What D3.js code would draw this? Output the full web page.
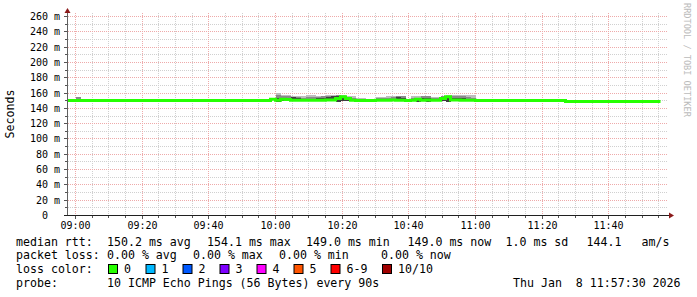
<!DOCTYPE html>
<html>
<head>
<meta charset="utf-8">
<script src="https://cdn.jsdelivr.net/npm/d3@7"></script>
<style>
body { margin: 0; background: #fff; }
svg { display: block; }
text { font-family: "DejaVu Sans Mono", monospace; fill: #000; white-space: pre; }
</style>
</head>
<body>
<div id="chart"></div>
<script>
// y axis ticks (ms)
var yTicks = [0, 20, 40, 60, 80, 100, 120, 140, 160, 180, 200, 220, 240, 260];
var xTickLabels = ["09:00", "09:20", "09:40", "10:00", "10:20", "10:40", "11:00", "11:20", "11:40"];

// 90 s steps that carry smoke (start time of each step), values in ms
var stepTime = ["08:58:30", "09:00:00",
  "09:58:30", "10:00:00", "10:01:30", "10:03:00", "10:04:30", "10:06:00", "10:07:30", "10:09:00",
  "10:10:30", "10:12:00", "10:13:30", "10:15:00", "10:16:30", "10:18:00", "10:19:30", "10:21:00",
  "10:22:30", "10:24:00", "10:25:30", "10:27:00", "10:28:30", "10:30:00", "10:31:30", "10:33:00",
  "10:34:30", "10:36:00", "10:37:30", "10:39:00", "10:40:30", "10:42:00", "10:43:30", "10:45:00",
  "10:46:30", "10:48:00", "10:49:30", "10:51:00", "10:52:30", "10:54:00", "10:55:30", "10:57:00",
  "10:58:30"];
var stepMed = [150.2, 150.2,
  151.8, 150.5, 152.0, 151.5, 150.5, 150.5, 150.5, 150.5,
  150.5, 150.5, 150.5, 151.0, 151.0, 153.0, 155.0, 153.0,
  150.5, 150.2, 150.2, 150.2, 150.2, 150.5, 150.5, 150.5,
  151.0, 150.5, 150.5, 150.2, 150.5, 152.0, 150.5, 151.0,
  150.5, 150.5, 153.0, 155.0, 151.0, 151.0, 150.5, 150.5,
  150.5];
var stepLo = [149.8, 149.8,
  149.5, 148.3, 149.3, 149.3, 149.3, 149.3, 149.3, 149.3,
  149.3, 149.3, 149.3, 149.3, 149.3, 148.3, 149.3, 149.3,
  149.3, 149.3, 149.3, 149.5, 149.5, 149.3, 149.3, 149.3,
  149.3, 149.3, 149.3, 149.5, 149.3, 148.3, 149.3, 148.3,
  149.3, 149.3, 149.3, 148.3, 149.3, 149.3, 149.3, 149.3,
  149.3];
var stepDark = [151.5, 152.5,
  150.0, 153.0, 154.0, 153.0, 155.0, 153.0, 152.5, 152.0,
  152.0, 153.0, 153.0, 155.0, 155.5, 156.0, 153.0, 152.0,
  151.0, 151.0, 150.5, 150.2, 150.2, 151.0, 151.0, 152.0,
  152.0, 155.0, 154.0, 150.5, 151.0, 152.0, 153.0, 154.0,
  152.0, 151.5, 155.0, 153.0, 154.0, 154.0, 153.0, 152.0,
  152.0];
var stepMid = [152.5, 154.3,
  150.0, 157.0, 156.0, 155.5, 155.0, 154.5, 154.0, 155.0,
  155.0, 155.0, 155.5, 156.5, 156.5, 157.0, 156.5, 155.0,
  154.0, 152.0, 151.5, 150.5, 150.5, 153.0, 153.0, 154.0,
  155.0, 156.0, 155.5, 151.0, 153.0, 154.0, 155.5, 155.5,
  153.5, 153.0, 155.5, 156.0, 156.0, 156.0, 156.0, 155.0,
  154.0];
var stepHi = [152.5, 154.6,
  150.0, 160.3, 157.5, 157.0, 155.5, 155.5, 155.5, 157.0,
  157.0, 156.0, 156.0, 157.0, 157.0, 157.5, 157.0, 156.5,
  156.0, 153.5, 153.0, 151.0, 151.0, 154.5, 154.5, 156.5,
  156.5, 156.5, 156.0, 152.0, 155.5, 155.5, 156.5, 156.5,
  154.5, 154.5, 156.5, 157.0, 157.0, 157.0, 157.5, 158.0,
  157.0];

// flat parts of the median line
var flatTime = ["08:57:36", "11:00:00", "11:27:00", "11:55:30"];
var flatMed = [150.2, 150.2, 149.0, 149.0];

var lossLabels = ["0", "1", "2", "3", "4", "5", "6-9", "10/10"];
var lossColors = ["#26ff00", "#00b8ff", "#0059ff", "#7e00ff", "#ff00ff", "#ff5500", "#ff0000", "#a00000"];

var parse = d3.timeParse("%Y-%m-%d %H:%M:%S");
function T(s) { return parse("2026-01-08 " + s); }

var W = 697, H = 297;
var svg = d3.select("#chart").append("svg").attr("width", W).attr("height", H);

var x = d3.scaleTime()
    .domain([T("08:57:36"), T("11:57:36")])
    .range([67.5, 667.5]);
var y = d3.scaleLinear()
    .domain([0, 260])
    .range([215.5, 16.5]);

function snap(v) { return Math.round(v - 0.5) + 0.5; }

// grid
var grid = svg.append("g");
var minorY = d3.range(10, 261, 20);
grid.selectAll(".hmin").data(minorY).enter().append("line")
    .attr("x1", 68).attr("x2", 668)
    .attr("y1", function(d) { return snap(y(d)); })
    .attr("y2", function(d) { return snap(y(d)); })
    .attr("stroke", "#d0d0d0").attr("stroke-dasharray", "1,1");
var minorX = x.ticks(d3.timeMinute.every(5)).filter(function(d) { return d.getMinutes() % 20 != 0; });
grid.selectAll(".vmin").data(minorX).enter().append("line")
    .attr("x1", function(d) { return snap(x(d)); })
    .attr("x2", function(d) { return snap(x(d)); })
    .attr("y1", 13).attr("y2", 215)
    .attr("stroke", "#d0d0d0").attr("stroke-dasharray", "1,1");
grid.selectAll(".hmaj").data(yTicks.slice(1)).enter().append("line")
    .attr("x1", 68).attr("x2", 668)
    .attr("y1", function(d) { return snap(y(d)); })
    .attr("y2", function(d) { return snap(y(d)); })
    .attr("stroke", "#eeaaaa").attr("stroke-dasharray", "1,1");
var majorX = x.ticks(d3.timeMinute.every(20));
grid.selectAll(".vmaj").data(majorX).enter().append("line")
    .attr("x1", function(d) { return snap(x(d)); })
    .attr("x2", function(d) { return snap(x(d)); })
    .attr("y1", 13).attr("y2", 215)
    .attr("stroke", "#eeaaaa").attr("stroke-dasharray", "1,1");

// smoke
var steps = stepTime.map(function(t, i) {
  return { t: T(t), lo: stepLo[i], dark: stepDark[i], mid: stepMid[i], hi: stepHi[i], med: stepMed[i] };
});
var smoke = svg.append("g");
function band(key, color) {
  smoke.selectAll(".b" + key).data(steps).enter().append("rect")
      .attr("x", function(d) { return Math.round(x(d.t)); })
      .attr("width", function(d) { return Math.round(x(new Date(+d.t + 90000))) - Math.round(x(d.t)); })
      .attr("y", function(d) { return Math.round(y(d[key])); })
      .attr("height", function(d) { return Math.max(0, Math.round(y(d.lo)) - Math.round(y(d[key]))); })
      .attr("fill", color);
}
band("hi", "#bdbdbd");
band("mid", "#8a8a8a");
band("dark", "#404040");

// median line
var med = steps.map(function(d) { return { t: d.t, v: d.med }; })
  .concat(flatTime.map(function(t, i) { return { t: T(t), v: flatMed[i] }; }))
  .sort(function(a, b) { return a.t - b.t; });
var line = d3.line()
    .x(function(d) { return x(d.t); })
    .y(function(d) { return y(d.v); })
    .curve(d3.curveStepAfter);
svg.append("path").datum(med)
    .attr("d", line)
    .attr("fill", "none")
    .attr("stroke", lossColors[0])
    .attr("stroke-width", 3);

// axes
var ax = svg.append("g");
ax.selectAll(".ytick").data(d3.range(0, 261, 10)).enter().append("line")
    .attr("x1", function(d) { return d % 20 == 0 ? 64 : 65; }).attr("x2", 67)
    .attr("y1", function(d) { return snap(y(d)); })
    .attr("y2", function(d) { return snap(y(d)); })
    .attr("stroke", "#555");
ax.selectAll(".xtick").data(x.ticks(d3.timeMinute.every(5))).enter().append("line")
    .attr("x1", function(d) { return snap(x(d)); })
    .attr("x2", function(d) { return snap(x(d)); })
    .attr("y1", 216).attr("y2", function(d) { return d.getMinutes() % 20 == 0 ? 219 : 218; })
    .attr("stroke", "#555");
ax.append("line").attr("x1", 67.5).attr("x2", 67.5).attr("y1", 12).attr("y2", 216)
    .attr("stroke", "#606060");
ax.append("line").attr("x1", 64).attr("x2", 670).attr("y1", 215.5).attr("y2", 215.5)
    .attr("stroke", "#202020");
ax.append("path").attr("d", "M64.5,13L70.5,13L67.5,8Z").attr("fill", "#8b1a1a");
ax.append("path").attr("d", "M669,212.5L669,218.5L674,215.5Z").attr("fill", "#8b1a1a");

// y labels
var yl = svg.append("g").style("font-size", "10px");
yl.selectAll(".yn").data(yTicks).enter().append("text")
    .attr("x", 48).attr("y", function(d) { return snap(y(d)) + 3.5; })
    .attr("text-anchor", "end")
    .text(function(d) { return d; });
yl.selectAll(".ym").data(yTicks.slice(1)).enter().append("text")
    .attr("x", 54).attr("y", function(d) { return snap(y(d)) + 3.5; })
    .text("m");

// x labels
svg.append("g").style("font-size", "10px")
  .selectAll("text").data(majorX).enter().append("text")
    .attr("x", function(d) { return snap(x(d)); })
    .attr("y", 229)
    .attr("text-anchor", "middle")
    .text(function(d, i) { return xTickLabels[i]; });

// axis title
svg.append("text")
    .attr("transform", "translate(14,114) rotate(-90)")
    .attr("text-anchor", "middle")
    .style("font-size", "11.6px")
    .text("Seconds");

// watermark
svg.append("text")
    .attr("transform", "translate(684,3) rotate(90)")
    .style("font-size", "8.6px")
    .style("fill", "#bbbbbb")
    .text("RRDTOOL / TOBI OETIKER");

// legend
var lg = svg.append("g").style("font-size", "11.6px");
var rows = [
  [[16, "median rtt:"], [107, "150.2 ms avg"], [207, "154.1 ms max"], [306, "149.0 ms min"],
   [407.5, "149.0 ms now"], [505.5, "1.0 ms sd"], [586.5, "144.1"], [641.5, "am/s"]],
  [[16, "packet loss:"], [107, "0.00 % avg"], [193, "0.00 % max"], [279, "0.00 % min"], [381, "0.00 % now"]],
  [[16, "loss color:"]],
  [[16, "probe:"], [107, "10 ICMP Echo Pings (56 Bytes) every 90s"], [513, "Thu Jan  8 11:57:30 2026"]]
];
var baselines = [245.5, 259.2, 272.9, 286.6];
rows.forEach(function(r, i) {
  lg.selectAll(".r" + i).data(r).enter().append("text")
      .attr("x", function(d) { return d[0]; })
      .attr("y", baselines[i])
      .text(function(d) { return d[1]; });
});
var boxX = [108, 145.5, 182.5, 219.5, 256.5, 293.5, 330.5, 382];
lg.selectAll(".box").data(lossColors).enter().append("rect")
    .attr("x", function(d, i) { return boxX[i] + 0.5; })
    .attr("y", 264.5)
    .attr("width", 9).attr("height", 9)
    .attr("fill", function(d) { return d; })
    .attr("stroke", "#000");
lg.selectAll(".boxl").data(lossLabels).enter().append("text")
    .attr("x", function(d, i) { return boxX[i] + 16; })
    .attr("y", baselines[2])
    .text(function(d) { return d; });
</script>
</body>
</html>
